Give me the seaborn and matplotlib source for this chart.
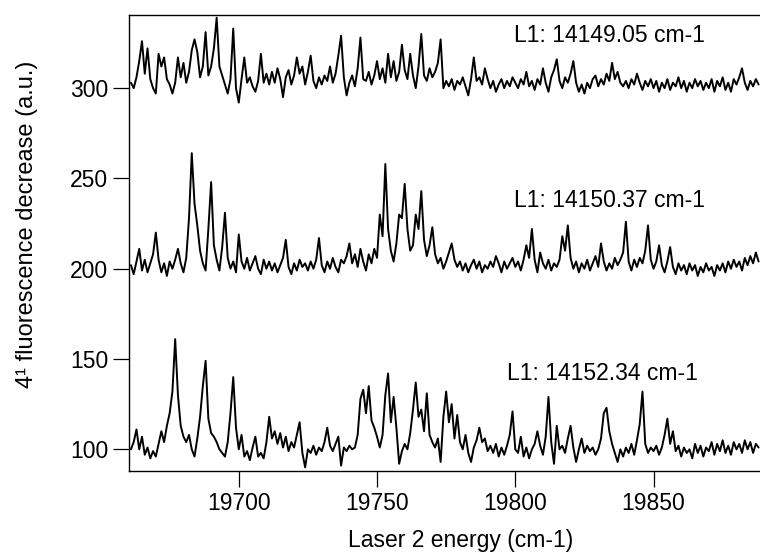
import numpy as np
import pandas as pd
import seaborn as sns
import matplotlib
matplotlib.use("Agg")
import matplotlib.pyplot as plt

# Laser 2 energy grid (cm-1), one sample per wavenumber
energy_start = 19661
energy_stop = 19888

# 4^1 fluorescence depletion, each scan offset by 100 units
scan_14149_05 = [
    303, 300, 306, 315, 326, 308, 322, 305, 300, 297,
    319, 312, 317, 305, 302, 297, 303, 317, 306, 314,
    303, 309, 321, 327, 320, 306, 312, 331, 307, 312,
    322, 339, 312, 307, 302, 297, 305, 333, 300, 292,
    305, 317, 303, 306, 301, 298, 304, 319, 303, 308,
    302, 309, 303, 311, 305, 295, 306, 310, 302, 307,
    317, 308, 312, 302, 309, 318, 304, 300, 306, 302,
    307, 304, 312, 303, 308, 318, 329, 306, 296, 303,
    307, 301, 311, 328, 305, 304, 309, 302, 307, 315,
    305, 311, 303, 319, 306, 315, 304, 309, 324, 310,
    305, 319, 307, 300, 312, 330, 307, 304, 311, 306,
    309, 314, 327, 300, 304, 301, 305, 299, 304, 302,
    306, 301, 296, 305, 317, 304, 306, 302, 311, 305,
    300, 304, 298, 302, 305, 300, 304, 301, 306, 303,
    300, 305, 302, 309, 301, 304, 299, 305, 302, 311,
    303, 298, 306, 310, 316, 304, 300, 306, 303, 308,
    315, 303, 298, 302, 297, 303, 300, 305, 307, 301,
    305, 302, 308, 304, 314, 305, 309, 303, 301, 304,
    300, 305, 302, 308, 303, 299, 304, 301, 305, 300,
    304, 298, 303, 300, 305, 299, 303, 301, 306, 300,
    304, 298, 303, 300, 305, 301, 304, 299, 303, 300,
    305, 298, 304, 301, 306, 299, 303, 298, 305, 302,
    306, 311, 303, 299, 304, 301, 305, 302,
]

scan_14150_37 = [
    202, 197, 204, 211, 199, 205, 198, 203, 208, 220,
    205, 198, 203, 196, 204, 200, 205, 211, 203, 198,
    206, 228, 264, 236, 224, 210, 203, 199, 222, 248,
    213, 205, 199, 212, 231, 206, 200, 204, 198, 219,
    204, 200, 206, 199, 203, 207, 200, 197, 205, 200,
    204, 199, 203, 198, 202, 206, 216, 201, 197, 203,
    199, 205, 201, 203, 199, 204, 200, 205, 217, 202,
    198, 204, 200, 206, 201, 198, 205, 203, 207, 214,
    203, 208, 201, 211, 204, 199, 208, 203, 211, 206,
    230, 218, 258, 222, 210, 204, 214, 230, 228, 247,
    222, 210, 213, 230, 222, 243, 216, 207, 213, 223,
    208, 203, 206, 200, 204, 209, 214, 205, 201, 204,
    199, 203, 198, 202, 205, 200, 204, 198, 202, 200,
    204, 201, 207, 203, 198, 204, 200, 203, 206, 201,
    204, 199, 205, 213, 206, 222, 205, 198, 209, 203,
    200, 205, 199, 203, 201, 205, 218, 210, 224, 206,
    200, 204, 198, 203, 200, 205, 199, 203, 207, 201,
    214, 204, 199, 203, 200, 206, 202, 205, 209, 226,
    204, 199, 205, 201, 206, 203, 210, 224, 205, 200,
    204, 213, 202, 198, 204, 212, 201, 197, 203, 199,
    202, 197, 203, 199, 202, 196, 201, 198, 203, 199,
    201, 196, 202, 199, 203, 198, 204, 200, 205, 201,
    204, 199, 206, 202, 207, 203, 209, 204,
]

scan_14152_34 = [
    100, 104, 111, 100, 107, 97, 101, 95, 99, 96,
    103, 110, 104, 113, 120, 132, 161, 130, 113, 107,
    104, 108, 100, 96, 106, 118, 135, 149, 117, 109,
    107, 104, 100, 98, 96, 104, 120, 140, 112, 100,
    108, 96, 99, 94, 101, 107, 96, 98, 95, 104,
    118, 106, 110, 103, 109, 101, 107, 99, 104, 101,
    108, 115, 98, 90, 100, 98, 102, 97, 101, 99,
    104, 112, 102, 99, 103, 107, 91, 101, 99, 102,
    100, 101, 108, 128, 133, 120, 135, 116, 112, 107,
    101, 108, 130, 142, 115, 129, 112, 92, 99, 103,
    100, 109, 122, 137, 118, 122, 110, 131, 108, 104,
    101, 106, 93, 118, 132, 115, 125, 106, 119, 104,
    100, 108, 98, 93, 101, 105, 112, 104, 106, 99,
    102, 98, 103, 96, 101, 97, 102, 108, 121, 100,
    98, 107, 96, 101, 95, 100, 103, 110, 102, 97,
    107, 129, 104, 92, 113, 100, 102, 98, 106, 113,
    101, 93, 100, 106, 98, 102, 99, 101, 97, 100,
    106, 120, 123, 110, 103, 98, 93, 100, 96, 101,
    98, 103, 97, 105, 114, 132, 103, 98, 101, 99,
    102, 97, 101, 108, 117, 103, 110, 99, 102, 96,
    101, 98, 100, 95, 103, 98, 102, 96, 101, 99,
    104, 97, 103, 99, 105, 98, 102, 97, 104, 100,
    103, 98, 105, 100, 104, 98, 103, 101,
]

scan_labels = ["L1: 14149.05 cm-1", "L1: 14150.37 cm-1", "L1: 14152.34 cm-1"]
label_anchor_x = [19799.5, 19799.5, 19797.1]
label_anchor_y = [329.0, 237.8, 141.9]

x_ticks = [19700, 19750, 19800, 19850]
y_ticks = [100, 150, 200, 250, 300]

energy = np.arange(energy_start, energy_stop + 1)
frames = []
for name, vals in zip(scan_labels, [scan_14149_05, scan_14150_37, scan_14152_34]):
    frames.append(pd.DataFrame({"energy": energy, "signal": vals, "scan": name}))
df = pd.concat(frames, ignore_index=True)

sns.set_theme(style="ticks")
plt.rcParams["font.family"] = ["Liberation Sans", "DejaVu Sans"]

fig = plt.figure(figsize=(7.6, 5.52), dpi=100)
ax = fig.add_axes([129 / 760, 1 - 471 / 552, (760 - 129) / 760, (471 - 15) / 552])

sns.lineplot(data=df, x="energy", y="signal", units="scan", estimator=None,
             color="black", linewidth=1.4, ax=ax, legend=False)

ax.set_xlim(19660.3, 19888.5)
ax.set_ylim(88, 340.5)
ax.set_xticks(x_ticks)
ax.set_yticks(y_ticks)
ax.tick_params(direction="out", length=11.5, width=0.9, pad=3.5,
               labelsize=16.5, colors="black")
for side in ["left", "bottom", "top"]:
    ax.spines[side].set_visible(True)
    ax.spines[side].set_color("black")
    ax.spines[side].set_linewidth(1.0)
ax.spines["right"].set_visible(False)
ax.set_xlabel("")
ax.set_ylabel("")

for text, tx, ty in zip(scan_labels, label_anchor_x, label_anchor_y):
    ax.text(tx, ty, text, fontsize=16.5, ha="left", va="center", color="black")

fig.text(461 / 760, 1 - 541 / 552, "Laser 2 energy (cm-1)", fontsize=16.5,
         ha="center", va="center", color="black")
fig.text(27 / 760, 1 - 224 / 552, "4¹ fluorescence decrease (a.u.)", fontsize=17,
         rotation=90, ha="center", va="center", color="black")

fig.savefig("out.png", dpi=100)
